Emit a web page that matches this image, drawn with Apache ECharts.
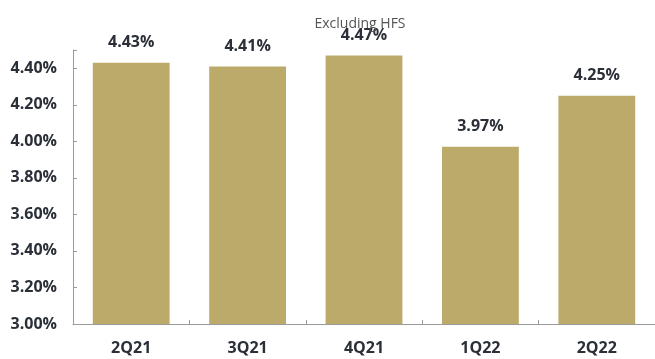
<!DOCTYPE html>
<html>
<head>
<meta charset="utf-8">
<script src="https://cdn.jsdelivr.net/npm/echarts@6/dist/echarts.min.js"></script>
<style>
  html, body { margin: 0; padding: 0; background: #ffffff; }
  #chart { width: 655px; height: 359px; }
</style>
</head>
<body>
<div id="chart"></div>
<script>
// Quarterly yield, excluding held-for-sale assets
const quarters = ['2Q21', '3Q21', '4Q21', '1Q22', '2Q22'];
const yieldPct = [4.43, 4.41, 4.47, 3.97, 4.25];
const yTicks = [3.0, 3.2, 3.4, 3.6, 3.8, 4.0, 4.2, 4.4];

const chart = echarts.init(document.getElementById('chart'));
const font = '"Open Sans", sans-serif';

chart.setOption({
  animation: false,
  title: {
    text: 'Excluding HFS',
    left: 355,
    top: 12,
    textAlign: 'center',
    textStyle: { fontFamily: font, fontSize: 14, fontWeight: 'normal', color: '#555555' }
  },
  grid: { left: 73, right: -5, top: 50, bottom: 35 },
  xAxis: {
    type: 'category',
    data: quarters,
    axisLine: { lineStyle: { color: '#9a9a9a', width: 1 } },
    axisTick: { show: true, inside: true, length: 4, lineStyle: { color: '#9a9a9a' } },
    axisLabel: { margin: 16, fontFamily: font, fontSize: 16, fontWeight: 'bold', color: '#2a2f38' }
  },
  yAxis: {
    type: 'value',
    min: 3.0,
    max: 4.5,
    interval: 0.2,
    splitLine: { show: false },
    axisLine: { show: true, lineStyle: { color: '#9a9a9a', width: 1 } },
    axisTick: { show: true, inside: true, length: 4, lineStyle: { color: '#9a9a9a' } },
    axisLabel: {
      margin: 16,
      fontFamily: font, fontSize: 16, fontWeight: 'bold', color: '#2a2f38',
      formatter: v => (yTicks.some(t => Math.abs(t - v) < 1e-6) ? v.toFixed(2) + '%' : '')
    }
  },
  series: [{
    type: 'bar',
    data: yieldPct,
    barCategoryGap: '34%',
    itemStyle: { color: '#bcaa6b' },
    label: {
      show: true,
      position: 'top',
      distance: 12,
      fontFamily: font, fontSize: 16, fontWeight: 'bold', color: '#2a2f38',
      formatter: p => p.value.toFixed(2) + '%'
    }
  }]
});
</script>
</body>
</html>
